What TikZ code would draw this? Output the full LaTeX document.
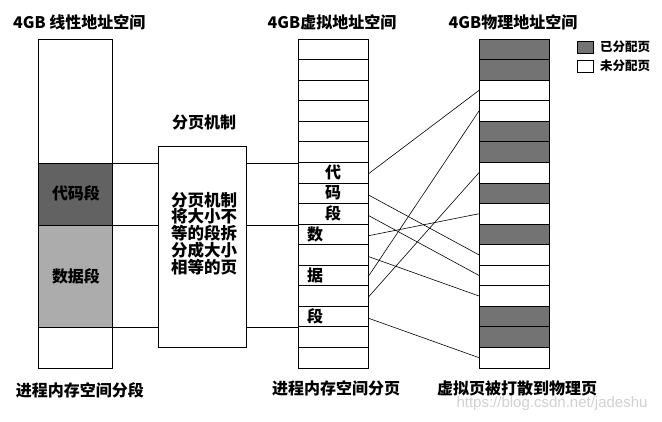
\documentclass[tikz,border=0pt]{standalone}
\usepackage{fontspec}
\setmainfont{Noto Sans CJK SC}
\newfontfamily\wmfont{Liberation Sans}
\definecolor{dk}{RGB}{115,115,115}
\definecolor{codec}{RGB}{98,98,98}
\definecolor{datac}{RGB}{172,172,172}
\definecolor{wt}{RGB}{255,255,255}
\begin{document}
\begin{tikzpicture}[x=1pt,y=-1pt,
  seg/.style={draw,line width=0.8pt,minimum width=74pt,inner sep=0,outer sep=0},
  vrow/.style={draw,line width=0.8pt,minimum width=70pt,minimum height=20.56pt,inner sep=0,outer sep=0},
  prow/.style={draw,line width=0.8pt,minimum width=70pt,minimum height=20.56pt,inner sep=0,outer sep=0},
  ttl/.style={inner sep=0,font=\bfseries\fontsize{16}{18}\selectfont},
  chr/.style={inner sep=0,font=\bfseries\fontsize{16}{17}\selectfont},
  leg/.style={inner sep=0,font=\bfseries\fontsize{12.5}{14}\selectfont},
  conn/.style={line width=0.7pt},
  mapl/.style={line width=0.6pt}]
\useasboundingbox (0,0) rectangle (662,422);
\fill[white] (0,0) rectangle (662,422);

% titles
\node[ttl,anchor=west] (t1) at (13,22) {4GB 线性地址空间};
\node[ttl] (t2) at (332,22) {4GB虚拟地址空间};
\node[ttl] (t3) at (513,22) {4GB物理地址空间};
\node[ttl] (t4) at (204,122) {分页机制};

% left column (segments)
\node[seg,minimum height=124pt] (top) at (75,101) {};
\node[seg,minimum height=62pt,fill=codec] (code) at (75,194) {};
\node[seg,minimum height=102pt,fill=datac] (data) at (75,276) {};
\node[seg,minimum height=41pt] (bot) at (75,347.5) {};
\node[chr] (codet) at (76,193) {代码段};
\node[chr] (datat) at (76,276) {数据段};

% paging box
\node[draw,line width=0.8pt,minimum width=88pt,minimum height=201pt,inner sep=0,outer sep=0] (pg) at (202,246.5) {};
\node[inner sep=0,align=center,font=\bfseries\fontsize{16.5}{15.9}\selectfont] (pgt) at (204,234)
  {分页机制\\将大小不\\等的段拆\\分成大小\\相等的页};

% virtual column
\foreach \k in {0,...,15}
  \node[vrow] (v\k) at (333,{39+20.56*(\k+0.5)}) {};
\node[chr] (c6) at (v6) {代};
\node[chr] (c7) at (v7) {码};
\node[chr] (c8) at (v8) {段};
\node[chr] (c9) at ([xshift=-18pt]v9.center) {数};
\node[chr] (c11) at ([xshift=-18pt]v11.center) {据};
\node[chr] (c13) at ([xshift=-18pt]v13.center) {段};

% physical column
\foreach \k/\c in {0/dk,1/dk,2/wt,3/wt,4/dk,5/dk,6/wt,7/dk,8/wt,9/dk,10/wt,11/wt,12/wt,13/dk,14/dk,15/wt}
  \node[prow,fill=\c] (p\k) at (514,{39+20.56*(\k+0.5)}) {};

% connectors left -> paging -> virtual
\draw[conn] (code.north east) -- (code.north east -| pg.west);
\draw[conn] (pg.east |- code.north east) -- (code.north east -| v0.west);
\draw[conn] (data.north east) -- (data.north east -| pg.west);
\draw[conn] (pg.east |- data.north east) -- (data.north east -| v0.west);
\draw[conn] (data.south east) -- (data.south east -| pg.west);
\draw[conn] (pg.east |- data.south east) -- (data.south east -| v0.west);

% mapping virtual -> physical
\foreach \a/\b in {6/2,7/10,8/11,9/8,10/12,11/3,12/6,13/15}
  \draw[mapl] ([yshift=-1.5pt]v\a.east) -- (p\b.west);

% legend
\node[draw,line width=0.8pt,fill=dk,minimum width=16pt,minimum height=12pt,inner sep=0] (l1) at (585,47) {};
\node[draw,line width=0.8pt,fill=white,minimum width=16pt,minimum height=12pt,inner sep=0] (l2) at (585,66) {};
\node[leg,anchor=west] (l1t) at (600,47) {已分配页};
\node[leg,anchor=west] (l2t) at (600,66) {未分配页};

% bottom labels
\node[ttl] (b1) at (80,390) {进程内存空间分段};
\node[ttl] (b2) at (336,388) {进程内存空间分页};
\node[ttl] (b3) at (517,388) {虚拟页被打散到物理页};
\node[inner sep=0,text=black!18,font=\wmfont\fontsize{15}{16}\selectfont] (wm) at (552,404) {https://blog.csdn.net/jadeshu};
\end{tikzpicture}
\end{document}
